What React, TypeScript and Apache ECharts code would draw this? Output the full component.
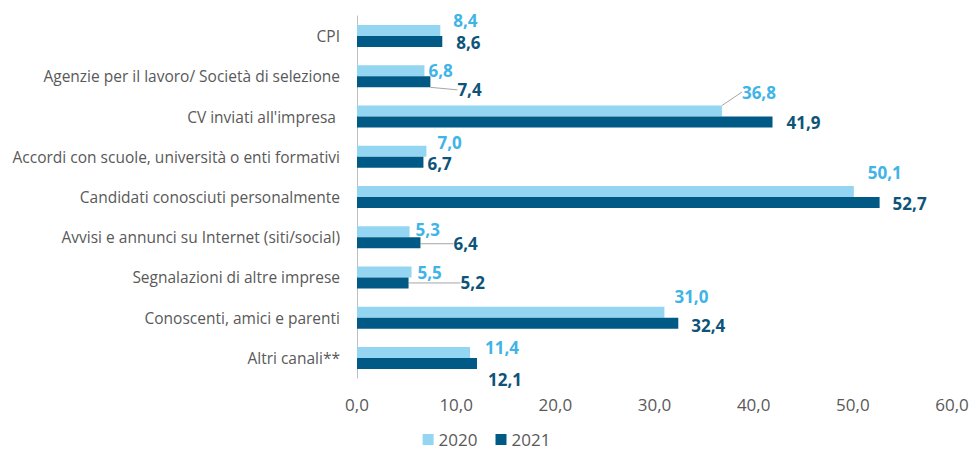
import React, { useEffect, useRef } from "react";
import * as echarts from "echarts";

const categories = [
  "CPI",
  "Agenzie per il lavoro/ Società di selezione",
  "CV inviati all'impresa ",
  "Accordi con scuole, università o enti formativi",
  "Candidati conosciuti personalmente",
  "Avvisi e annunci su Internet (siti/social)",
  "Segnalazioni di altre imprese",
  "Conoscenti, amici e parenti",
  "Altri canali**",
];
const values2020 = [8.4, 6.8, 36.8, 7.0, 50.1, 5.3, 5.5, 31.0, 11.4];
const values2021 = [8.6, 7.4, 41.9, 6.7, 52.7, 6.4, 5.2, 32.4, 12.1];
const xTicks = [0, 10, 20, 30, 40, 50, 60];

// label placement tweaks (px) per category: [dx, dy]
const labelShift2020 = [[13, -10], [4, 0], [20, -19], [11, -9], [14, -19], [6, -2], [6, 1], [10, -16], [15, -5]];
const labelShift2021 = [[14, 1], [27, 8], [14, 0], [4, 1], [13, 1], [33, 1], [52, 0], [13, 2], [11, 16]];
const leader2020 = [false, false, true, false, false, false, false, false, false];
const leader2021 = [false, true, false, false, false, true, true, false, false];

const LIGHT_BAR = "#94D6F2";
const DARK_BAR = "#005A85";
const LIGHT_LABEL = "#40B4E6";
const DARK_LABEL = "#0E5478";
const GREY = "#595959";
const FONT = "Open Sans";

const fmt = (v: number) => v.toFixed(1).replace(".", ",");

export default function App() {
  const ref = useRef<HTMLDivElement>(null);
  useEffect(() => {
    if (!ref.current) return;
    const chart = echarts.init(ref.current, null, { renderer: "svg" });
    const mkData = (vals: number[], leaders: boolean[]) =>
      vals.map((v, i) => ({
        value: v,
        labelLine: { show: leaders[i], lineStyle: { color: "#A6A6A6", width: 1 }, length2: 0 },
      }));
    const labelCfg = (color: string) => ({
      show: true,
      position: "right",
      distance: 0,
      color,
      fontSize: 17,
      lineHeight: 17,
      fontWeight: "bold",
      fontFamily: FONT,
      formatter: (p: any) => fmt(p.value),
    });
    chart.setOption({
      animation: false,
      textStyle: { fontFamily: FONT },
      grid: { left: 357, right: 21, top: 16, bottom: 76, containLabel: false },
      legend: {
        data: ["2020", "2021"],
        top: 431,
        left: "center",
        padding: 0,
        icon: "rect",
        itemWidth: 11,
        itemHeight: 11,
        itemGap: 18,
        textStyle: { color: GREY, fontSize: 17, lineHeight: 17, fontFamily: FONT },
      },
      xAxis: {
        type: "value",
        min: 0,
        max: 60,
        interval: 10,
        axisLine: { show: false },
        axisTick: { show: false },
        splitLine: { show: false },
        axisLabel: {
          color: GREY,
          fontSize: 17,
          fontFamily: FONT,
          margin: 18,
          formatter: (v: number) => (xTicks.includes(v) ? fmt(v) : ""),
        },
      },
      yAxis: {
        type: "category",
        data: categories,
        inverse: true,
        axisLine: { show: true, lineStyle: { color: "#BFBFBF", width: 1 } },
        axisTick: { show: false },
        axisLabel: { color: GREY, fontSize: 15.5, fontFamily: FONT, margin: 17 },
      },
      series: [
        {
          name: "2020",
          type: "bar",
          data: mkData(values2020, leader2020),
          itemStyle: { color: LIGHT_BAR },
          barWidth: 11,
          barGap: "0%",
          barCategoryGap: "45%",
          label: labelCfg(LIGHT_LABEL),
          labelLayout: (p: any) => ({ dx: labelShift2020[p.dataIndex][0], dy: labelShift2020[p.dataIndex][1] }),
        },
        {
          name: "2021",
          type: "bar",
          data: mkData(values2021, leader2021),
          itemStyle: { color: DARK_BAR },
          barWidth: 11,
          barGap: "0%",
          barCategoryGap: "45%",
          label: labelCfg(DARK_LABEL),
          labelLayout: (p: any) => ({ dx: labelShift2021[p.dataIndex][0], dy: labelShift2021[p.dataIndex][1] }),
        },
      ],
    });
    return () => chart.dispose();
  }, []);
  return <div ref={ref} style={{ width: 973, height: 454, position: "absolute", left: 0, top: 0 }} />;
}
